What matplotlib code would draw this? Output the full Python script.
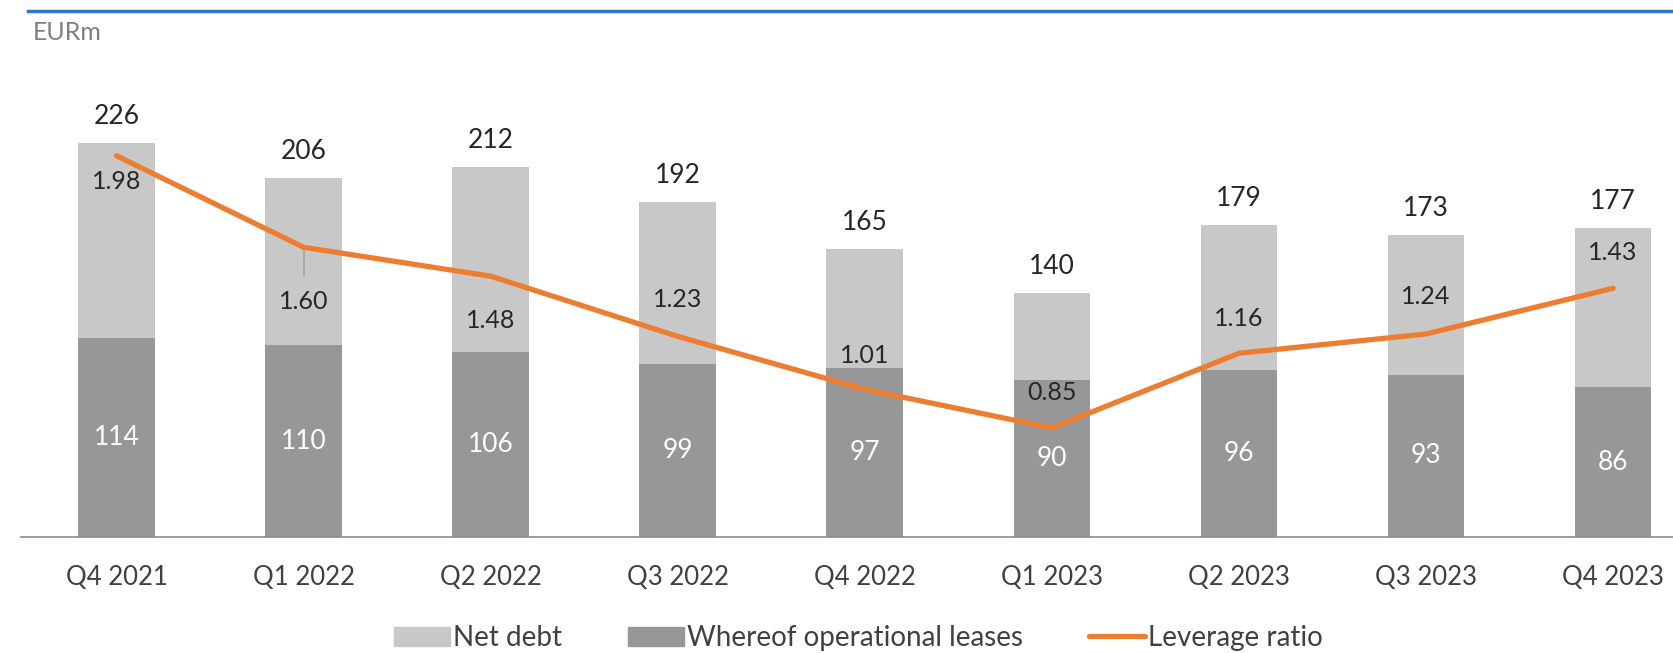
import numpy as np
import matplotlib.pyplot as plt
from matplotlib.patches import Patch
from matplotlib.lines import Line2D

plt.rcParams['font.family'] = ['Lato', 'DejaVu Sans']

quarters = ['Q4 2021', 'Q1 2022', 'Q2 2022', 'Q3 2022', 'Q4 2022',
            'Q1 2023', 'Q2 2023', 'Q3 2023', 'Q4 2023']
net_debt = [226, 206, 212, 192, 165, 140, 179, 173, 177]
op_leases = [114, 110, 106, 99, 97, 90, 96, 93, 86]
leverage = [1.98, 1.60, 1.48, 1.23, 1.01, 0.85, 1.16, 1.24, 1.43]
# where the leverage labels sit (in EURm units of the bar axis)
lev_label_y = [204, 135, 124, 136, 104, 83, 125, 138, 163]

c_light = '#c8c8c8'
c_dark = '#979797'
c_orange = '#ed7d31'
c_text = '#262626'

fig = plt.figure(figsize=(16.73, 6.53), dpi=100)
ax = fig.add_axes([0.0126, 0.1776, 0.9874, 0.668])
x = np.arange(len(quarters))
w = 0.41

ax.bar(x, net_debt, width=w, color=c_light, zorder=1)
ax.bar(x, op_leases, width=w, color=c_dark, zorder=2)
ax.set_xlim(-0.51, 8.32)
ax.set_ylim(0, 250)

for i in x:
    ax.annotate(str(net_debt[i]), (i, net_debt[i]), xytext=(0, 19), textcoords='offset points',
                ha='center', va='center', fontsize=19, color=c_text)
    ax.text(i, op_leases[i] / 2, str(op_leases[i]), ha='center', va='center',
            fontsize=19, color='white', zorder=5)
    ax.text(i, lev_label_y[i], '%.2f' % leverage[i], ha='center', va='center',
            fontsize=18, color=c_text, zorder=5)

ax.set_xticks(x)
ax.set_xticklabels(quarters, fontsize=18.5, color='#404040')
ax.tick_params(axis='x', length=0, pad=20)
ax.set_yticks([])
for s in ['top', 'right', 'left']:
    ax.spines[s].set_visible(False)
ax.spines['bottom'].set_color('#8c8c8c')
ax.spines['bottom'].set_linewidth(1.2)

ax2 = ax.twinx()
ax2.plot(x, leverage, color=c_orange, linewidth=3.8, solid_capstyle='round', zorder=4)
ax2.set_ylim(0.397, 2.208)
ax2.set_yticks([])
for s in ax2.spines.values():
    s.set_visible(False)
# leader line for the Q1 2022 label
ax2.plot([1, 1], [leverage[1], leverage[1] - 0.12], color='#a6a6a6', linewidth=1.2, zorder=3)

# top rule and unit
fig.add_artist(Line2D([28 / 1673, 1.0], [1 - 11 / 653, 1 - 11 / 653], color='#2f75c5', linewidth=2.5))
fig.text(33 / 1673, 1 - 33 / 653, 'EURm', fontsize=18, color='#7f7f7f', ha='left', va='center')

handles = [Patch(color=c_light), Patch(color=c_dark),
           Line2D([], [], color=c_orange, linewidth=3.8, solid_capstyle='round')]
fig.legend(handles, ['Net debt', 'Whereof operational leases', 'Leverage ratio'],
           loc='center', bbox_to_anchor=(0.513, 1 - 638 / 653), ncol=3, frameon=False,
           fontsize=20, handlelength=2.0, handleheight=0.7, handletextpad=0.1,
           columnspacing=2.4, labelcolor='#404040')

fig.savefig('out.png', dpi=100)
